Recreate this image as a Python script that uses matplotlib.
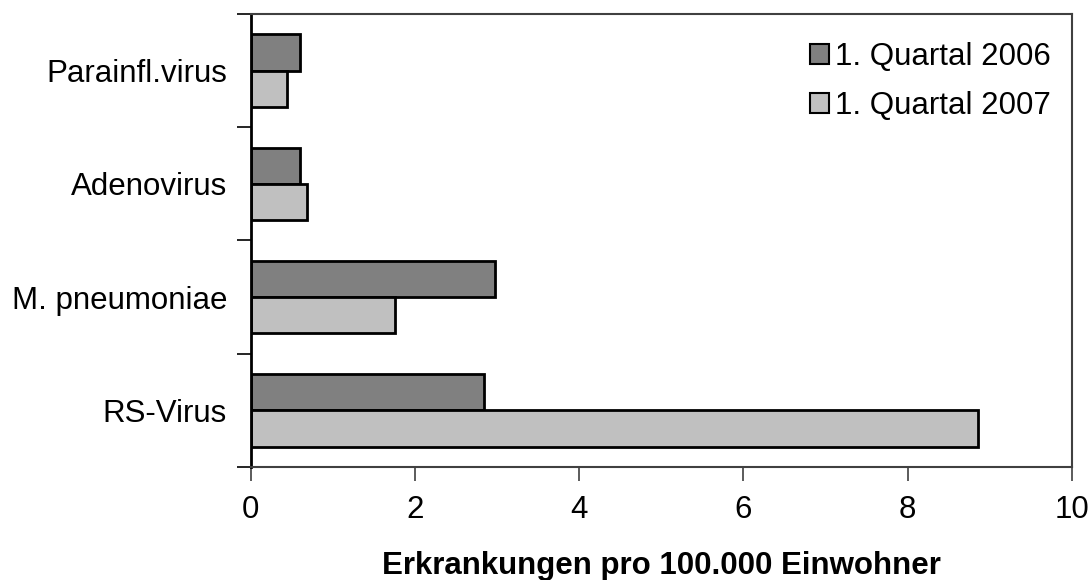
import matplotlib.pyplot as plt
import numpy as np

# data
categories = ['RS-Virus', 'M. pneumoniae', 'Adenovirus', 'Parainfl.virus']
q1_2006 = [2.84, 2.98, 0.60, 0.60]
q1_2007 = [8.85, 1.76, 0.69, 0.44]
series_labels = ['1. Quartal 2006', '1. Quartal 2007']
x_ticks = [0, 2, 4, 6, 8, 10]

plt.rcParams['font.family'] = ['Liberation Sans', 'DejaVu Sans']
fs = 22.5

fig = plt.figure(figsize=(10.92, 5.8), dpi=100)
ax = fig.add_axes([0.2296, 0.1948, 0.7521, 0.7811])

y = np.arange(len(categories))
h = 0.32
ax.barh(y + h / 2, q1_2006, height=h, color='#808080', edgecolor='black',
        linewidth=2, label=series_labels[0])
ax.barh(y - h / 2, q1_2007, height=h, color='#c0c0c0', edgecolor='black',
        linewidth=2, label=series_labels[1])

ax.set_xlim(0, 10)
ax.set_ylim(-0.5, len(categories) - 0.5)
ax.set_xticks(x_ticks)
ax.set_xticklabels([str(t) for t in x_ticks], fontsize=fs)

# category labels between boundary ticks
ax.set_yticks(np.arange(len(categories) + 1) - 0.5)
ax.set_yticklabels([])
ax.set_yticks(y, minor=True)
ax.set_yticklabels(categories, minor=True, fontsize=fs)
ax.tick_params(axis='y', which='minor', length=0, pad=17)
ax.tick_params(axis='y', which='major', length=10, width=1.2, color='black')
ax.tick_params(axis='x', length=10, width=1.2, color='#404040', pad=10)

for side in ['top', 'right', 'bottom']:
    ax.spines[side].set_color('#404040')
    ax.spines[side].set_linewidth(1.5)
ax.spines['left'].set_color('black')
ax.spines['left'].set_linewidth(2)

ax.set_xlabel('Erkrankungen pro 100.000 Einwohner', fontsize=fs,
              fontweight='bold', labelpad=19)

leg = ax.legend(loc='upper right', frameon=False, fontsize=fs,
                handlelength=0.6, handleheight=0.6, handletextpad=0.2,
                labelspacing=0.6, borderaxespad=0,
                bbox_to_anchor=(0.99, 0.965))
for patch in leg.get_patches():
    patch.set_linewidth(1.5)

fig.savefig('out.png', dpi=100)
